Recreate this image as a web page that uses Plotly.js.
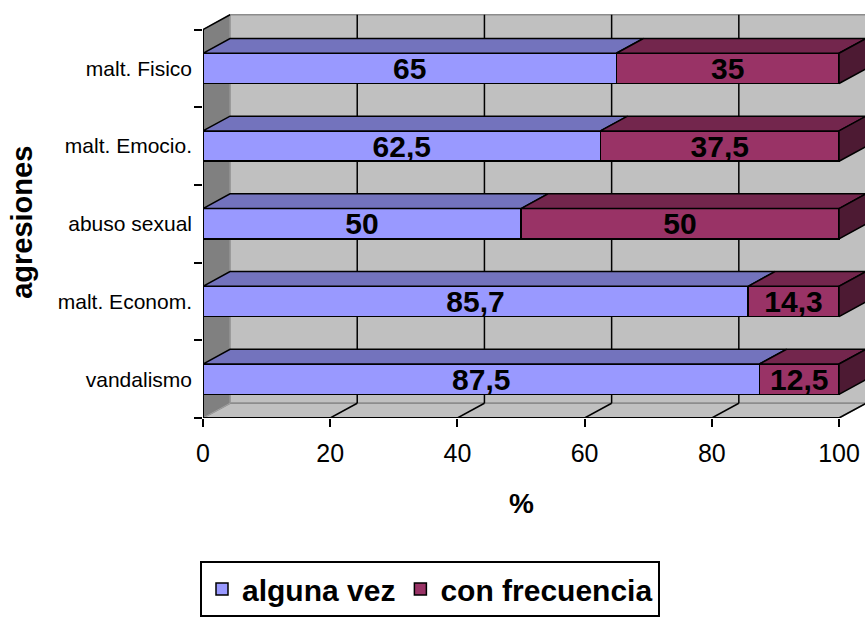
<!DOCTYPE html>
<html>
<head>
<meta charset="utf-8">
<script src="https://cdn.plot.ly/plotly-3.0.1.min.js"></script>
<style>html,body{margin:0;padding:0;background:#fff;}#chart{width:865px;height:617px;}</style>
</head>
<body>
<div id="chart"></div>
<script>
// ---- data ----
const categories = ['vandalismo', 'malt. Econom.', 'abuso sexual', 'malt. Emocio.', 'malt. Fisico'];
const algunaVez = [87.5, 85.7, 50, 62.5, 65];
const conFrecuencia = [12.5, 14.3, 50, 37.5, 35];
const xTickVals = [0, 20, 40, 60, 80, 100];
const seriesNames = ['alguna vez', 'con frecuencia'];

// ---- styling / 3D geometry ----
const FONT = 'Liberation Sans, Arial, sans-serif';
const DX = 4.25;   // depth offset, x units
const DY = 0.19;   // depth offset, category units
const HALF = 0.195; // half bar thickness
const XMAX = 100;
const YLO = -0.5, YHI = categories.length - 0.5;
const colFront = ['#9999FF', '#993366'];
const colTop = ['#7373BD', '#73264D'];
const colSide = '#4D1A33';

const fmt = v => String(v).replace('.', ',');

const traces = [];
// front faces (bars)
[algunaVez, conFrecuencia].forEach((vals, s) => {
  traces.push({
    type: 'bar', orientation: 'h', name: seriesNames[s],
    x: vals, y: categories.map((_, i) => i), width: HALF * 2,
    marker: {color: colFront[s], line: {color: '#000', width: 1.5}},
    text: vals.map(fmt), textposition: 'inside', insidetextanchor: 'middle',
    constraintext: 'none', textangle: 0,
    textfont: {family: FONT, size: 30, weight: 'bold', color: '#000'},
    hoverinfo: 'skip'
  });
});
// top faces and right side faces
categories.forEach((c, i) => {
  const segs = [[0, algunaVez[i]], [algunaVez[i], algunaVez[i] + conFrecuencia[i]]];
  segs.forEach(([a, b], s) => {
    const yt = i + HALF;
    traces.push({
      type: 'scatter', mode: 'lines', showlegend: false, hoverinfo: 'skip',
      x: [a, b, b + DX, a + DX, a], y: [yt, yt, yt + DY, yt + DY, yt],
      fill: 'toself', fillcolor: colTop[s], line: {color: '#000', width: 1.5}
    });
  });
  const e = algunaVez[i] + conFrecuencia[i];
  traces.push({
    type: 'scatter', mode: 'lines', showlegend: false, hoverinfo: 'skip',
    x: [e, e, e + DX, e + DX, e], y: [i - HALF, i + HALF, i + HALF + DY, i - HALF + DY, i - HALF],
    fill: 'toself', fillcolor: colSide, line: {color: '#000', width: 1.5}
  });
});

// walls, floor, gridlines
const shapes = [];
const P = (pts) => 'M' + pts.map(p => p[0] + ',' + p[1]).join(' L') + ' Z';
shapes.push({type: 'path', layer: 'below', xref: 'x', yref: 'y',
  path: P([[DX, YLO + DY], [XMAX + DX, YLO + DY], [XMAX + DX, YHI + DY], [DX, YHI + DY]]),
  fillcolor: '#C0C0C0', line: {color: '#8C8C8C', width: 1.5}});
shapes.push({type: 'path', layer: 'below', xref: 'x', yref: 'y',
  path: P([[0, YLO], [XMAX, YLO], [XMAX + DX, YLO + DY], [DX, YLO + DY]]),
  fillcolor: '#C0C0C0', line: {color: '#8C8C8C', width: 1.5}});
shapes.push({type: 'path', layer: 'below', xref: 'x', yref: 'y',
  path: P([[0, YLO], [DX, YLO + DY], [DX, YHI + DY], [0, YHI]]),
  fillcolor: '#808080', line: {color: '#A0A0A0', width: 1}});
xTickVals.slice(1).forEach(v => {
  shapes.push({type: 'line', layer: 'below', xref: 'x', yref: 'y',
    x0: v + DX, x1: v + DX, y0: YLO + DY, y1: YHI + DY, line: {color: '#000', width: 1.5}});
  shapes.push({type: 'line', layer: 'below', xref: 'x', yref: 'y',
    x0: v, x1: v + DX, y0: YLO, y1: YLO + DY, line: {color: '#000', width: 1.5}});
});
shapes.push({type: 'line', layer: 'below', xref: 'x', yref: 'y',
  x0: 0, x1: DX, y0: YHI, y1: YHI + DY, line: {color: '#000', width: 1.5}});
shapes.push({type: 'line', layer: 'below', xref: 'x', yref: 'y',
  x0: 0, x1: 0, y0: YLO, y1: YHI, line: {color: '#000', width: 2}});
shapes.push({type: 'line', layer: 'below', xref: 'x', yref: 'y',
  x0: 0, x1: XMAX, y0: YLO, y1: YLO, line: {color: '#000', width: 2}});

const boundaries = [];
for (let k = 0; k <= categories.length; k++) boundaries.push(k - 0.5);

const layout = {
  width: 865, height: 617,
  margin: {l: 203, r: 0, t: 14, b: 189, pad: 0},
  paper_bgcolor: '#fff', plot_bgcolor: '#fff',
  barmode: 'stack', bargap: 0,
  showlegend: true,
  font: {family: FONT, color: '#000'},
  xaxis: {
    range: [0, XMAX * 662 / 636], tickmode: 'array', tickvals: xTickVals,
    ticks: 'outside', ticklen: 8, tickwidth: 2, tickcolor: '#000', ticklabelstandoff: 5,
    tickfont: {family: FONT, size: 25, color: '#000'},
    showgrid: false, zeroline: false, showline: false, fixedrange: true
  },
  yaxis: {
    range: [YLO, YHI + 0.2], tickmode: 'array', tickvals: categories.map((_, i) => i), ticktext: categories,
    ticks: '', ticklabelstandoff: 10,
    tickfont: {family: FONT, size: 21, color: '#000'},
    minor: {tickmode: 'array', tickvals: boundaries, ticks: 'outside', ticklen: 8, tickwidth: 2, tickcolor: '#000', showgrid: false},
    showgrid: false, zeroline: false, showline: false, fixedrange: true
  },
  legend: {
    orientation: 'h', traceorder: 'normal', x: (430 - 203) / 662, xanchor: 'center', y: (428 - 575) / 414, yanchor: 'top',
    bordercolor: '#000', borderwidth: 2, bgcolor: '#fff',
    font: {family: FONT, size: 30, weight: 'bold', color: '#000'}
  },
  annotations: [
    {text: '%', xref: 'x', x: 50, yref: 'paper', y: (428 - 516) / 414, showarrow: false,
     xanchor: 'center', yanchor: 'middle', font: {family: FONT, size: 28, weight: 'bold', color: '#000'}},
    {text: 'agresiones', xref: 'paper', x: (22 - 203) / 662, yref: 'paper', y: (428 - 228) / 414, showarrow: false,
     textangle: -90, xanchor: 'center', yanchor: 'middle', font: {family: FONT, size: 29, weight: 'bold', color: '#000'}}
  ],
  shapes: shapes
};

Plotly.newPlot('chart', traces, layout, {displayModeBar: false, staticPlot: true});
</script>
</body>
</html>
